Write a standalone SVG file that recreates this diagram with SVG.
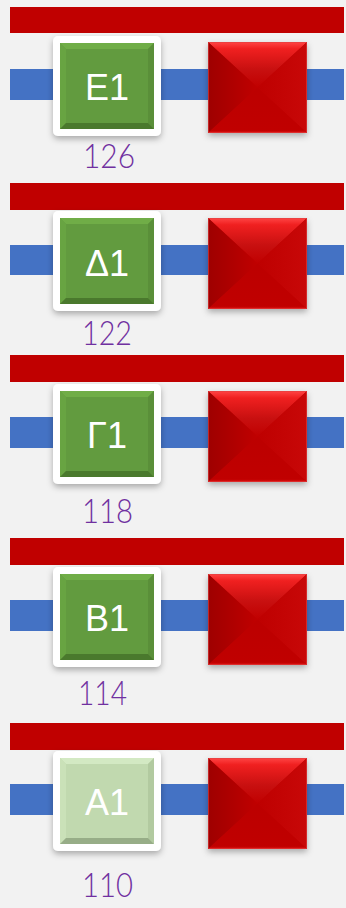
<svg xmlns="http://www.w3.org/2000/svg" width="346" height="908" viewBox="0 0 346 908">
<defs>
<style>
.bg{fill:#F2F2F2}
.rbar{fill:#C00000}
.bbar{fill:#4472C4}
.frame{fill:#FFFFFF;filter:url(#sh)}
.gf{fill:#629B3F}.gt{fill:#70AD47}.gl{fill:#68A442}.gr{fill:#5A8F39}.gb{fill:#4A792D}
.lf{fill:#C1D9AF}.lt{fill:#D3E9C3}.ll{fill:#CAE1B8}.lr{fill:#B2CAA0}.lb{fill:#97AD87}
.nt{font-family:"Liberation Sans",Arial,sans-serif;font-size:36px;fill:#FFFFFF;text-anchor:middle}
.num{font-family:Lato,"DejaVu Sans",sans-serif;font-weight:300;font-size:34px;fill:#7030A0}
</style>
<filter id="sh" x="-20%" y="-20%" width="140%" height="150%">
<feDropShadow dx="0" dy="3" stdDeviation="3" flood-color="#000" flood-opacity="0.3"/>
</filter>
<linearGradient id="rt" x1="0" y1="0" x2="0" y2="1">
<stop offset="0" stop-color="#FF4545"/><stop offset="0.15" stop-color="#F02020"/><stop offset="0.6" stop-color="#C81010"/><stop offset="1" stop-color="#C00000"/>
</linearGradient>
<linearGradient id="rl" x1="0" y1="0" x2="1" y2="0">
<stop offset="0" stop-color="#9E0000"/><stop offset="1" stop-color="#C00000"/>
</linearGradient>
<linearGradient id="rr" x1="1" y1="0" x2="0" y2="0">
<stop offset="0" stop-color="#C80808"/><stop offset="1" stop-color="#BE0000"/>
</linearGradient>
<linearGradient id="rb" x1="0" y1="1" x2="0" y2="0">
<stop offset="0" stop-color="#E01515"/><stop offset="0.06" stop-color="#C00000"/><stop offset="1" stop-color="#BC0000"/>
</linearGradient>
<g id="red">
<rect x="0" y="0" width="99" height="91" fill="#C00000" filter="url(#sh)"/>
<polygon points="0,0 99,0 49.5,45.5" fill="url(#rt)"/>
<polygon points="0,0 49.5,45.5 0,91" fill="url(#rl)"/>
<polygon points="99,0 99,91 49.5,45.5" fill="url(#rr)"/>
<polygon points="0,91 99,91 49.5,45.5" fill="url(#rb)"/>
<rect x="0.5" y="0.5" width="98" height="90" fill="none" stroke="#E04040" stroke-width="1" opacity="0.6"/>
</g>
<g id="gbox">
<rect class="frame" x="0" y="0" width="108" height="100" rx="5"/>
<rect class="gf" x="7" y="7" width="94" height="86"/>
<polygon class="gt" points="7,7 101,7 95,13 13,13"/>
<polygon class="gl" points="7,7 13,13 13,87 7,93"/>
<polygon class="gr" points="101,7 101,93 95,87 95,13"/>
<polygon class="gb" points="7,93 13,87 95,87 101,93"/>
</g>
<g id="lbox">
<rect class="frame" x="0" y="0" width="108" height="100" rx="5"/>
<rect class="lf" x="7" y="7" width="94" height="86"/>
<polygon class="lt" points="7,7 101,7 95,13 13,13"/>
<polygon class="ll" points="7,7 13,13 13,87 7,93"/>
<polygon class="lr" points="101,7 101,93 95,87 95,13"/>
<polygon class="lb" points="7,93 13,87 95,87 101,93"/>
</g>
</defs>
<rect class="bg" x="0" y="0" width="346" height="908"/>
<g id="connectors">
<rect class="rbar" x="10" y="7" width="334" height="26"/>
<rect class="bbar" x="10" y="69" width="334" height="31"/>
<rect class="rbar" x="10" y="183" width="334" height="27"/>
<rect class="bbar" x="10" y="245" width="334" height="30"/>
<rect class="rbar" x="10" y="355" width="334" height="27"/>
<rect class="bbar" x="10" y="417" width="334" height="31"/>
<rect class="rbar" x="10" y="538" width="334" height="27"/>
<rect class="bbar" x="10" y="600" width="334" height="31"/>
<rect class="rbar" x="10" y="723" width="334" height="27"/>
<rect class="bbar" x="10" y="784" width="334" height="31"/>
</g>
<g id="E1">
<use href="#gbox" x="53" y="36"/>
<text class="nt" x="107" y="100">E1</text>
<text class="num" x="83" y="168" textLength="52" lengthAdjust="spacingAndGlyphs">126</text>
</g>
<g id="R5"><use href="#red" x="208" y="42"/></g>
<g id="D1">
<use href="#gbox" x="53" y="211"/>
<text class="nt" x="107" y="276">Δ1</text>
<text class="num" x="82" y="345" textLength="50" lengthAdjust="spacingAndGlyphs">122</text>
</g>
<g id="R4"><use href="#red" x="208" y="218"/></g>
<g id="G1">
<use href="#gbox" x="53" y="384"/>
<text class="nt" x="107" y="448">Γ1</text>
<text class="num" x="82" y="523" textLength="51" lengthAdjust="spacingAndGlyphs">118</text>
</g>
<g id="R3"><use href="#red" x="208" y="391"/></g>
<g id="B1">
<use href="#gbox" x="53" y="567"/>
<text class="nt" x="107" y="631">B1</text>
<text class="num" x="78" y="705" textLength="49" lengthAdjust="spacingAndGlyphs">114</text>
</g>
<g id="R2"><use href="#red" x="208" y="574"/></g>
<g id="A1">
<use href="#lbox" x="53" y="751"/>
<text class="nt" x="107" y="815">A1</text>
<text class="num" x="82" y="897" textLength="51" lengthAdjust="spacingAndGlyphs">110</text>
</g>
<g id="R1"><use href="#red" x="208" y="758"/></g>
</svg>
